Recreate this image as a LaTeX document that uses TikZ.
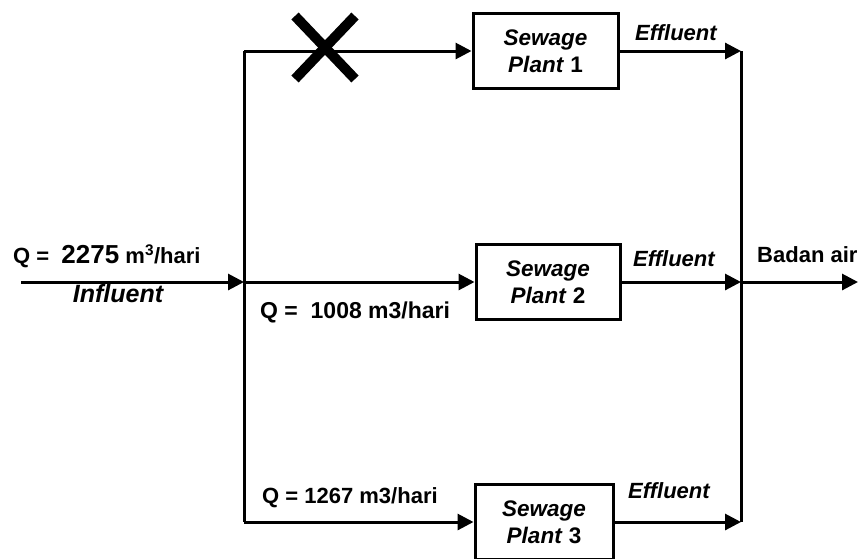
\documentclass[tikz,border=0pt]{standalone}
\usepackage{fontspec}
\setmainfont{Liberation Sans}
\usetikzlibrary{arrows.meta}

\begin{document}
\begin{tikzpicture}[x=1pt,y=-1pt,
  flow/.style={line width=3pt, -{Triangle[length=16pt,width=16pt]}},
  bus/.style={line width=3pt},
  plant/.style={draw, line width=3pt, minimum width=144pt, minimum height=75pt,
                align=center, inner sep=0pt,
                font=\fontsize{22.5}{27}\selectfont\bfseries},
  lbl/.style={inner sep=0pt, anchor=base west,
              font=\fontsize{22}{26}\selectfont\bfseries},
  ilbl/.style={lbl, font=\fontsize{22}{26}\selectfont\bfseries\itshape}
]
\useasboundingbox (0,0) rectangle (861,558);

% treatment units
\node[plant, minimum width=145pt] (p1) at (545.5,51) {\textit{Sewage}\\\textit{Plant} 1};
\node[plant] (p2) at (548,282) {\textit{Sewage}\\\textit{Plant} 2};
\node[plant, minimum width=138pt] (p3) at (544,522) {\textit{Sewage}\\\textit{Plant} 3};

% collector points
\coordinate (src) at (21,282);
\coordinate (Ltop) at (244,51);
\coordinate (Lmid) at (244,282);
\coordinate (Lbot) at (244,522);
\coordinate (Rtop) at (741,51);
\coordinate (Rmid) at (741,282);
\coordinate (Rbot) at (741,522);
\coordinate (sink) at (858,282);

% distribution and collection headers
\draw[bus] (Ltop) -- (Lbot);
\draw[bus] (Rtop) -- (Rbot);

% influent and branches
\draw[flow] (src) -- (Lmid);
\draw[flow] (Ltop) -- (p1.west);
\draw[flow] (Lmid) -- (p2.west);
\draw[flow] (Lbot) -- (p3.west);

% effluent lines
\draw[flow] (p1.east) -- (Rtop);
\draw[flow] (p2.east) -- (Rmid);
\draw[flow] (p3.east) -- (Rbot);
\draw[flow] (Rmid) -- (sink);

% closed branch
\draw[line width=10pt] (295,16) -- (355,79);
\draw[line width=10pt] (355,16) -- (295,79);

% labels
\node[lbl] (qin) at (13,263) {Q =\ \ {\fontsize{26}{26}\selectfont 2275} m\textsuperscript{3}/hari};
\node[ilbl, font=\fontsize{25}{26}\selectfont\bfseries\itshape, anchor=base] (infl) at (118,302) {Influent};
\node[lbl, font=\fontsize{23}{26}\selectfont\bfseries] (q2) at (260,318) {Q =\ \ 1008 m3/hari};
\node[lbl] (q3) at (262,503) {Q = 1267 m3/hari};
\node[ilbl] (e1) at (635,40) {Effluent};
\node[ilbl] (e2) at (633,266) {Effluent};
\node[ilbl] (e3) at (628,498) {Effluent};
\node[lbl] (badan) at (757,262) {Badan air};
\end{tikzpicture}
\end{document}
